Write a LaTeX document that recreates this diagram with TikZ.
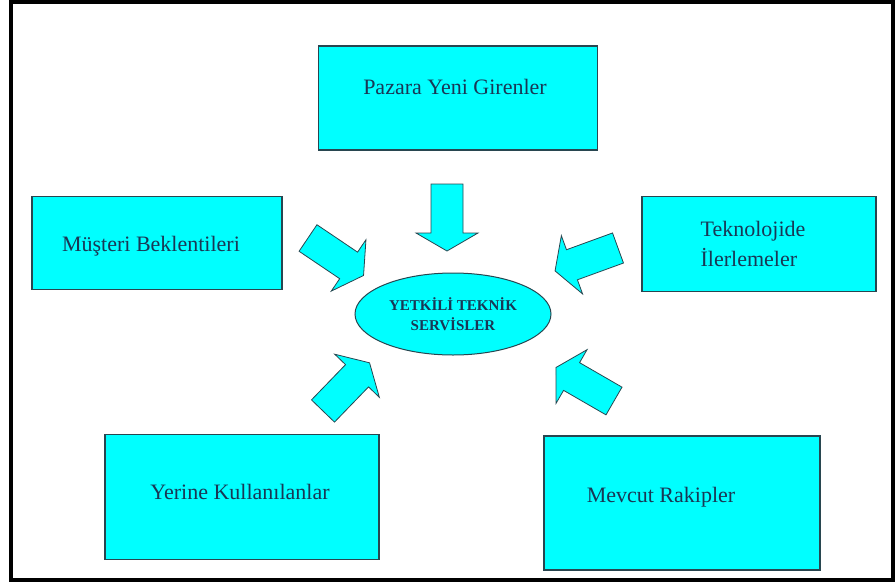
\documentclass[tikz,border=0pt]{standalone}
\usepackage{fontspec}
\setmainfont{Liberation Serif}
\usetikzlibrary{shapes.geometric}
\definecolor{kutumavi}{RGB}{0,255,255}
\definecolor{cizgi}{RGB}{40,70,80}
\definecolor{yazirenk}{RGB}{25,55,85}
\begin{document}
\begin{tikzpicture}[x=1pt,y=-1pt,
	kutu/.style={rectangle,fill=kutumavi,draw=cizgi,line width=1.2pt,inner sep=0pt},
	yazi/.style={text=yazirenk,font=\fontsize{22}{30}\selectfont,align=left},
	merkez/.style={ellipse,fill=kutumavi,draw=cizgi,line width=1pt,minimum width=196,minimum height=82,inner sep=0pt,
		text=yazirenk,font=\bfseries\fontsize{15}{20}\selectfont,align=center},
	ok/.pic={\draw[fill=kutumavi,draw=cizgi,line width=0.8pt] (0,-16) -- (49,-16) -- (49,-31) -- (67,0) -- (49,31) -- (49,16) -- (0,16) -- cycle;}]
	\useasboundingbox (0,0) rectangle (895,582);
	\draw[line width=4pt] (11,1.5) rectangle (893,580);
	
	\node[kutu,minimum width=279,minimum height=104] at (458,98) (pazara) {};
	\node[kutu,minimum width=250,minimum height=93] at (157,243) (musteri) {};
	\node[kutu,minimum width=234,minimum height=95] at (759,244) (tekno) {};
	\node[kutu,minimum width=274,minimum height=125] at (242,497) (yerine) {};
	\node[kutu,minimum width=276,minimum height=134] at (682,503) (mevcut) {};
	
	\node[yazi] at (455,87) (pazara-t) {Pazara Yeni Girenler};
	\node[yazi] at (151,246) (musteri-t) {Müşteri Beklentileri};
	\node[yazi] at (753,244) (tekno-t) {Teknolojide\\İlerlemeler};
	\node[yazi] at (240,492) (yerine-t) {Yerine Kullanılanlar};
	\node[yazi] at (661,497) (mevcut-t) {Mevcut Rakipler};
	
	\node[merkez] at (453,314) (servis) {YETKİLİ TEKNİK\\SERVİSLER};
	
	\pic[rotate=-90] at (447,184) {ok};
	\pic[rotate=-34] at (308,238) {ok};
	\pic[rotate=200] at (618,248) {ok};
	\pic[rotate=46] at (323,411) {ok};
	\pic[rotate=150] at (614,401) {ok};
\end{tikzpicture}
\end{document}
